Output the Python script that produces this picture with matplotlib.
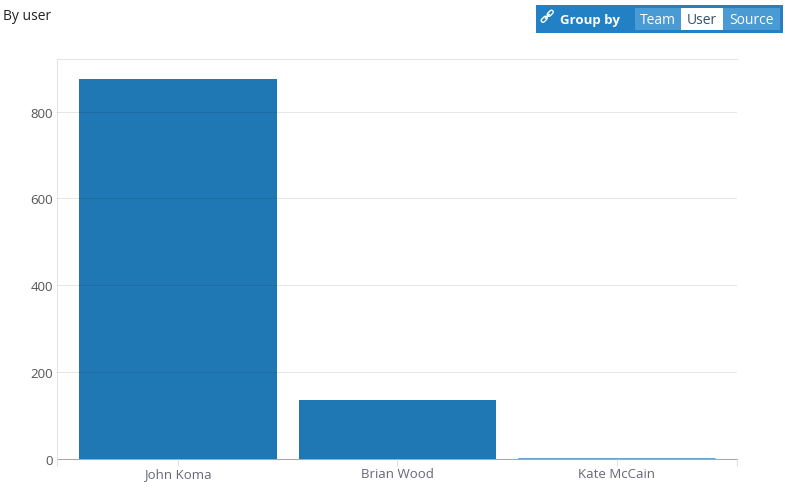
import matplotlib
matplotlib.use('Agg')
import matplotlib.pyplot as plt
from matplotlib.patches import Rectangle
from matplotlib.ticker import FixedLocator

plt.rcParams['font.family'] = ['Open Sans', 'DejaVu Sans']

users = ['John Koma', 'Brian Wood', 'Kate McCain']
counts = [876, 135, 1.5]
yticks = [0, 200, 400, 600, 800]
buttons = ['Team', 'User', 'Source']

W, H = 785.0, 489.0
fig = plt.figure(figsize=(W/100, H/100), dpi=100)

# plot area in pixels
ax = fig.add_axes([57.0/W, (H-460.0)/H, 680/W, 400/H])
pos = list(range(len(users)))
bars = ax.bar(pos, counts, width=0.9, color='#1f77b4', zorder=2)
# the last bar is under a pixel tall, snapping would lose it
bars[2].set_snap(False)
ax.set_xlim(-0.552, 2.548)
ax.set_ylim(0, 921)
ax.set_yticks(yticks)
ax.set_xticks(pos)
ax.set_xticklabels(users)
ax.xaxis.set_minor_locator(FixedLocator([-0.552, 2.548]))
ax.tick_params(axis='x', which='both', length=5, width=0.8, color='#e0e0e0',
               labelsize=9.5, labelcolor='#666677', pad=1)
ax.tick_params(axis='y', length=0, labelsize=9.5, labelcolor='#555555', pad=3)
ax.grid(axis='y', color='#101010', alpha=0.1, lw=0.72, zorder=3)
ax.set_axisbelow(False)
ax.spines['right'].set_visible(False)
ax.spines['top'].set_color('#e6e6e6')
ax.spines['left'].set_color('#e6e6e6')
ax.spines['bottom'].set_color('#aaaaaa')
ax.spines['bottom'].set_zorder(1)

# page furniture, in pixel coordinates
top = fig.add_axes([0, 0, 1, 1], facecolor='none')
top.set_xlim(0, W)
top.set_ylim(H, 0)
top.axis('off')
top.text(3, 16, 'By user', fontsize=10, color='#222222', va='center')
top.add_patch(Rectangle((536, 6), 247, 28, color='#2281c4', lw=0))
top.text(560, 20.5, 'Group by', fontsize=9.5, color='white', fontweight='bold', va='center')

# link icon
for seg in [((543, 21.5), (545.5, 19)), ((549, 15.5), (551.5, 13))]:
    top.plot(*zip(*seg), color='white', lw=3.6, solid_capstyle='round')
    top.plot(*zip(*seg), color='#2281c4', lw=1.6, solid_capstyle='round')
top.plot((545.5, 549), (19, 15.5), color='white', lw=1.2)

edges = [635, 681, 723, 780]
for i, b in enumerate(buttons):
    active = b == 'User'
    top.add_patch(Rectangle((edges[i], 9), edges[i+1]-edges[i], 22, lw=0,
                            color='white' if active else '#4a9ad4'))
    top.text((edges[i]+edges[i+1])/2, 20.5, b, fontsize=10, ha='center', va='center',
             color='#35506b' if active else 'white')

fig.savefig('out.png', dpi=100)
